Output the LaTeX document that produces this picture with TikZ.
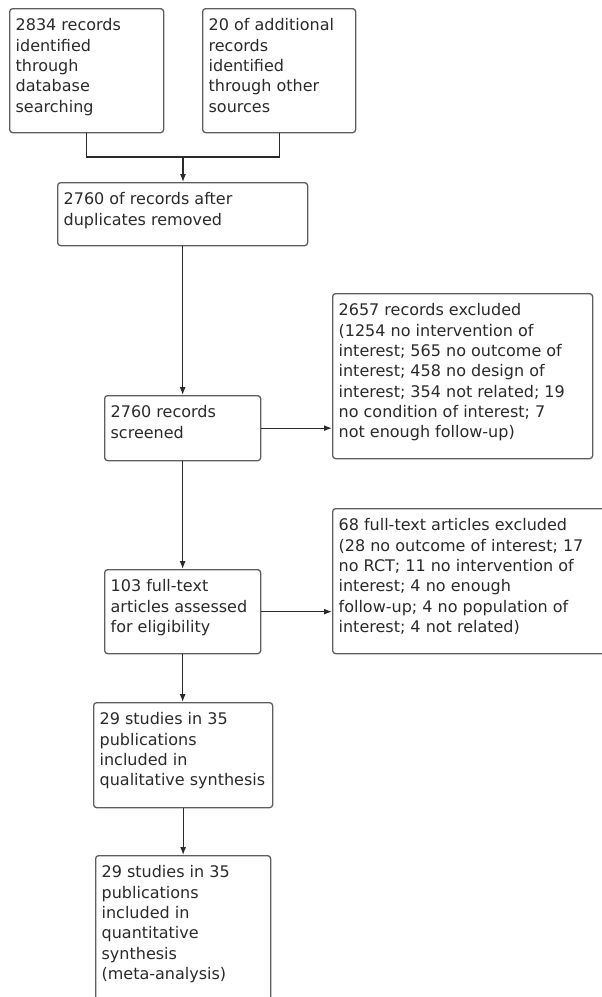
\documentclass[tikz,border=0pt]{standalone}
\usepackage{fontspec}
\setmainfont{DejaVu Sans}
\usetikzlibrary{arrows.meta,positioning,calc}
\definecolor{boxline}{HTML}{5E5E5E}
\definecolor{inkgray}{HTML}{2A2A2A}
\newcommand{\boxtxt}[3]{\begin{minipage}[t][\dimexpr#2pt-20pt\relax][t]{\dimexpr#1pt-12pt\relax}\raggedright #3\end{minipage}}

\begin{document}
\begin{tikzpicture}[x=1pt, y=-1pt, >={Latex[length=8pt,width=6pt]}, box node/.style={draw=boxline,line width=1.3pt,rounded corners=3pt,anchor=north west,inner xsep=6pt,inner ysep=10pt,text=inkgray}]%fill=white,
\useasboundingbox (0,0) rectangle (602,997);
\begin{scope}[every node/.style={font=\fontsize{16}{20.3}\selectfont}]
\node[box node] (n1) at (9,8) {\boxtxt{154}{124}{2834 records\\identified\\through\\database\\searching}};
\node[box node] (n2) at (202,8) {\boxtxt{153}{124}{20 of additional\\records\\identified\\through other\\sources}};
\node[box node] (n3) at (57,182) {\boxtxt{250}{63}{2760 of records after\\duplicates removed}};
\node[box node] (n4) at (104,395) {\boxtxt{156}{65}{2760 records\\screened}};
\node[box node] (n5) at (332,293) {\boxtxt{260}{165}{2657 records excluded\\(1254 no intervention of\\interest; 565 no outcome of\\interest; 458 no design of\\interest; 354 not related; 19\\no condition of interest; 7\\not enough follow-up)}};
\node[box node] (n6) at (104,569) {\boxtxt{156}{84}{103 full-text\\articles assessed\\for eligibility}};
\node[box node] (n7) at (332,508) {\boxtxt{283}{145}{68 full-text articles excluded\\(28 no outcome of interest; 17\\no RCT; 11 no intervention of\\interest; 4 no enough\\follow-up; 4 no population of\\interest; 4 not related)}};
\node[box node] (n8) at (93,702) {\boxtxt{179}{105}{29 studies in 35\\publications\\included in\\qualitative synthesis}};
\node[box node] (n9) at (95,855) {\boxtxt{175}{160}{29 studies in 35\\publications\\included in\\quantitative\\synthesis\\(meta-analysis)}};
\end{scope}
\coordinate (j1) at (183,157);
\begin{scope}[every path/.style={draw=inkgray,line width=1.2pt}]
\draw (n1.south) |- (j1) -| (n2.south);
\draw[->] (j1) -- (j1 |- n3.north);
\draw[->] (n3.south) -- (n4.north);
\draw[->] (n4.east) -- (n4.east -| n5.west);
\draw[->] (n4.south) -- (n6.north);
\draw[->] (n6.east) -- (n6.east -| n7.west);
\draw[->] (n6.south) -- (n6.south |- n8.north);
\draw[->] (n8.south) -- (n8.south |- n9.north);
\end{scope}
\end{tikzpicture}
\end{document}
